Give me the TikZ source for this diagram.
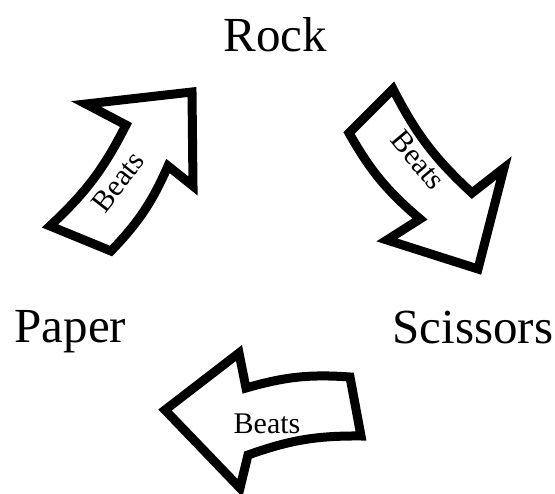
\documentclass[tikz,border=0pt]{standalone}
\usepackage{fontspec}
\setmainfont{Liberation Serif}
\usepackage{tikz}

\tikzset{
  beatarrow/.style={draw=black,line width=9pt,fill=white,line join=miter},
  move/.style={font=\fontsize{49}{49}\selectfont,inner sep=0pt,anchor=base},
  beatlbl/.style={font=\fontsize{30}{30}\selectfont,inner sep=0pt}
}

\begin{document}
\begin{tikzpicture}[x=1pt,y=-1pt]
\useasboundingbox (0,0) rectangle (555,494);
\begin{scope}
  % the three moves
  \node[move] (rock) at (275.5,52) {Rock};
  \node[move] (paper) at (70.5,343) {Paper};
  \node[move] (scissors) at (473,344) {Scissors};

  % paper beats rock
  \draw[beatarrow] (192,92) -- (86,104) -- (126,125) to[bend left=10] (50,226)
    -- (111,251) to[bend right=10] (168,166) -- (193,186) -- cycle;
  % rock beats scissors
  \draw[beatarrow] (393,89) to[bend right=10] (472,193) -- (504,168) -- (478,269)
    -- (387,240) -- (420,219) to[bend left=10] (349,133) -- cycle;
  % scissors beats paper
  \draw[beatarrow] (165,410) -- (239,353) -- (246,388) to[bend left=10] (350,377)
    -- (361,436) to[bend right=10] (248,455) -- (240,488) -- cycle;

  \foreach \x/\y/\r/\n in {118/182/52/pr,418/160/-50/rs,267/424/0/sp}{
    \node[beatlbl,rotate=\r] (beats-\n) at (\x,\y) {Beats};
  }
\end{scope}
\end{tikzpicture}
\end{document}
